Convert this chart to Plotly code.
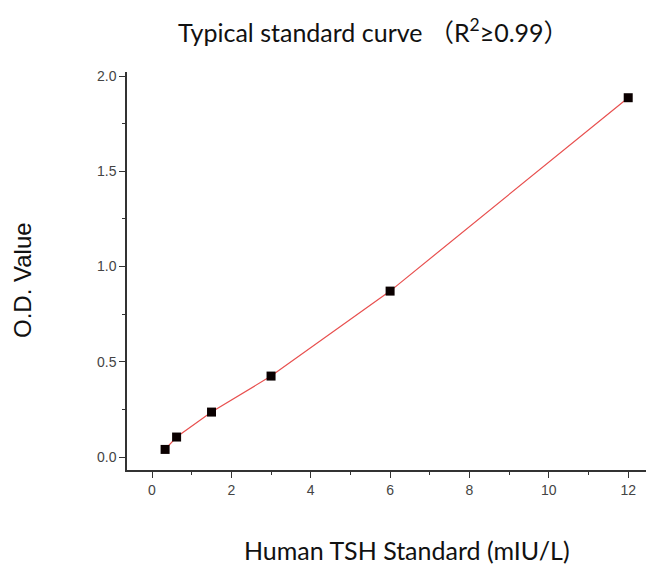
import plotly.graph_objects as go

# Data
conc = [0.33, 0.62, 1.5, 3.0, 6.0, 12.0]          # Human TSH Standard (mIU/L)
od = [0.04, 0.105, 0.236, 0.425, 0.871, 1.886]     # O.D. Value
x_ticks = [0, 2, 4, 6, 8, 10, 12]
y_ticks = [0.0, 0.5, 1.0, 1.5, 2.0]
y_tick_labels = ["0.0", "0.5", "1.0", "1.5", "2.0"]

OFF = 8  # page body margin
W, H = 654 - OFF, 564 - OFF
L, R, T, B = 127 - OFF, 0, 72 - OFF, 564 - 470
pw, ph = W - L - R, H - T - B


def px(x, y):
    # reference pixel position -> paper coordinates
    return (x - OFF - L) / pw, (H - B - (y - OFF)) / ph


fig = go.Figure()
fig.add_trace(go.Scatter(x=conc, y=od, mode="lines",
                         line=dict(color="#e8504f", width=1.2),
                         hoverinfo="skip", showlegend=False))
fig.add_trace(go.Scatter(x=conc, y=od, mode="markers",
                         marker=dict(symbol="square", size=9, color="#0a0000"),
                         showlegend=False))

tickfont = dict(family="Liberation Sans, Arial", size=14, color="#444444")
tx, ty = px(373, 30)
xx, xy = px(407, 550)
yx, yy = px(22, 280)
fig.update_layout(
    width=W, height=H,
    margin=dict(l=L, r=R, t=T, b=B, autoexpand=False),
    paper_bgcolor="white", plot_bgcolor="white",
    xaxis=dict(range=[-0.63, 12.65], tickvals=x_ticks, ticks="outside",
               ticklen=6, tickwidth=1.2, tickcolor="#333", showline=True,
               linecolor="#333", linewidth=1.5, showgrid=False, zeroline=False,
               tickfont=tickfont,
               minor=dict(tickvals=[1, 3, 5, 7, 9, 11], ticks="outside",
                          ticklen=3, tickcolor="#333")),
    yaxis=dict(range=[-0.068, 2.021], tickvals=y_ticks, ticktext=y_tick_labels,
               ticks="outside", ticklen=6, tickwidth=1.2, tickcolor="#333",
               showline=True, linecolor="#333", linewidth=1.5, showgrid=False,
               zeroline=False, tickfont=tickfont,
               minor=dict(tickvals=[0.25, 0.75, 1.25, 1.75], ticks="outside",
                          ticklen=3, tickcolor="#333")),
    annotations=[
        dict(text="Typical standard curve （R<sup>2</sup>≥0.99）",
             x=tx, y=ty, xanchor="center", yanchor="middle",
             xref="paper", yref="paper", showarrow=False,
             font=dict(family="Lato, Noto Sans CJK SC", size=25, color="#111")),
        dict(text="Human TSH Standard (mIU/L)", x=xx, y=xy,
             xanchor="center", yanchor="middle",
             xref="paper", yref="paper", showarrow=False,
             font=dict(family="Lato", size=25, color="#111")),
        dict(text="O.D. Value", x=yx, y=yy, textangle=-90,
             xanchor="center", yanchor="middle",
             xref="paper", yref="paper", showarrow=False,
             font=dict(family="Liberation Sans, Arial", size=24, color="#111")),
    ],
)
fig.write_html("out.html")
